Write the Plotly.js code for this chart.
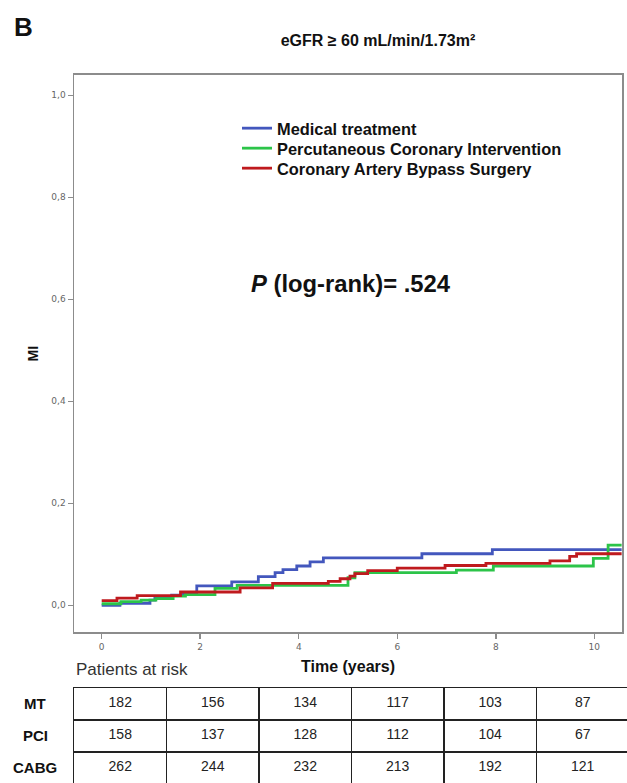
<!DOCTYPE html>
<html>
<head>
<meta charset="utf-8">
<script src="https://cdn.plot.ly/plotly-3.0.1.min.js"></script>
<style>html,body{margin:0;padding:0;background:#fff;}#chart{width:627px;height:783px;}</style>
</head>
<body>
<div id="chart"></div>
<script>
// Cumulative MI incidence (step curves)
const time_MT   = [0, 0.37, 0.98, 1.08, 1.42, 1.66, 1.93, 2.64, 3.18, 3.52, 3.68, 3.96, 4.23, 4.5, 6.5, 7.93, 10.56];
const inc_MT    = [0, 0.004, 0.010, 0.015, 0.020, 0.024, 0.038, 0.046, 0.056, 0.064, 0.070, 0.077, 0.085, 0.093, 0.101, 0.109, 0.109];

const time_PCI  = [0, 0.39, 0.8, 1.1, 1.45, 1.7, 2.3, 2.75, 5.0, 5.14, 7.2, 7.95, 9.98, 10.28, 10.56];
const inc_PCI   = [0.003, 0.007, 0.010, 0.013, 0.018, 0.021, 0.033, 0.039, 0.054, 0.064, 0.069, 0.077, 0.092, 0.118, 0.118];

const time_CABG = [0, 0.31, 0.72, 1.6, 2.81, 3.47, 4.6, 4.84, 5.04, 5.14, 5.4, 6.0, 6.97, 7.8, 9.1, 9.5, 9.64, 10.56];
const inc_CABG  = [0.009, 0.014, 0.019, 0.026, 0.034, 0.043, 0.047, 0.052, 0.057, 0.062, 0.068, 0.073, 0.078, 0.082, 0.087, 0.096, 0.101, 0.101];

const series_names = ['Medical treatment', 'Percutaneous Coronary Intervention', 'Coronary Artery Bypass Surgery'];

// Patients at risk table
const risk_times  = [0, 2, 4, 6, 8, 10];
const risk_labels = ['MT', 'PCI', 'CABG'];
const risk_MT     = [182, 156, 134, 117, 103, 87];
const risk_PCI    = [158, 137, 128, 112, 104, 67];
const risk_CABG   = [262, 244, 232, 213, 192, 121];

const xticks = [0, 2, 4, 6, 8, 10];
const yticks = [0, 0.2, 0.4, 0.6, 0.8, 1.0];

const colors = ['#4357bd', '#2cc449', '#bf1a1e'];
const W = 627, H = 783;
const AX = '#8c8c8c';
const SANS = 'Liberation Sans, Arial, sans-serif';
const legendIds = ['legend', 'legend2', 'legend3'];

const curveTimes = [time_MT, time_PCI, time_CABG];
const curveVals = [inc_MT, inc_PCI, inc_CABG];
const traces = curveTimes.map((t, i) => ({
  type: 'scatter', mode: 'lines', x: t, y: curveVals[i],
  line: {shape: 'hv', color: colors[i], width: 2.8},
  name: '<b>' + series_names[i] + '</b>', legend: legendIds[i],
  xaxis: 'x', yaxis: 'y', hoverinfo: 'skip'
}));

const riskRows = [risk_MT, risk_PCI, risk_CABG];
riskRows.forEach((row, r) => {
  traces.push({
    type: 'scatter', mode: 'text', x: risk_times, y: risk_times.map(() => r),
    text: row.map(String), textposition: 'middle center',
    textfont: {family: SANS, size: 14, color: '#222'},
    xaxis: 'x2', yaxis: 'y2', showlegend: false, hoverinfo: 'skip'
  });
});

const annotations = [
  {text: '<b>B</b>', xref: 'paper', yref: 'paper', x: 23 / W, y: 1 - 27 / H, xanchor: 'center', yanchor: 'middle',
   showarrow: false, font: {family: SANS, size: 26, color: '#111'}},
  {text: '<b><i>P</i> (log-rank)= .524</b>', xref: 'paper', yref: 'paper', x: 351 / W, y: 1 - 283 / H,
   xanchor: 'center', yanchor: 'middle', showarrow: false,
   font: {family: SANS, size: 23.8, color: '#111'}},
  {text: 'Patients at risk', xref: 'paper', yref: 'paper', x: 74 / W, y: 1 - 669 / H,
   xanchor: 'left', yanchor: 'middle', showarrow: false,
   font: {family: SANS, size: 17, color: '#333'}}
];
risk_labels.forEach((lab, r) => {
  annotations.push({text: '<b>' + lab + '</b>', xref: 'paper', yref: 'y2', x: 35 / W, y: r,
    xanchor: 'center', yanchor: 'middle', showarrow: false,
    font: {family: SANS, size: 15, color: '#111'}});
});

function legendAt(topPx) {
  return {
    x: 237 / W, y: 1 - topPx / H, xanchor: 'left', yanchor: 'top',
    bgcolor: 'rgba(0,0,0,0)', borderwidth: 0, itemwidth: 30,
    font: {family: SANS, size: 16.4, color: '#111'}
  };
}

const layout = {
  width: W, height: H,
  margin: {l: 0, r: 0, t: 0, b: 0, pad: 0},
  paper_bgcolor: '#fff', plot_bgcolor: '#fff',
  separators: ',.',
  showlegend: true,
  title: {text: '<b>eGFR ≥ 60 mL/min/1.73m²</b>', xref: 'paper', yref: 'paper',
          x: 378 / W, y: 1 - 40 / H, xanchor: 'center', yanchor: 'middle',
          font: {family: SANS, size: 16, color: '#111'}},
  xaxis: {
    domain: [74.3 / W, 621.7 / W], range: [-0.556, 10.556], anchor: 'y',
    tickvals: xticks, ticks: 'outside', ticklen: 5, tickwidth: 1.5, tickcolor: AX,
    showline: true, mirror: true, linecolor: AX, linewidth: 1.8, showgrid: false, zeroline: false,
    tickfont: {family: 'DejaVu Sans, sans-serif', size: 9, color: '#666'},
    title: {text: '<b>Time (years)</b>', standoff: 10,
            font: {family: SANS, size: 16, color: '#111'}}
  },
  yaxis: {
    domain: [(H - 632.3) / H, (H - 75) / H], range: [-0.053, 1.0397], anchor: 'x',
    tickvals: yticks, tickformat: '.1f', ticks: 'outside', ticklen: 5, tickwidth: 1.5, tickcolor: AX,
    showline: true, mirror: true, linecolor: AX, linewidth: 1.8, showgrid: false, zeroline: false,
    tickfont: {family: 'DejaVu Sans, sans-serif', size: 9, color: '#666'},
    title: {text: '<b>MI</b>', standoff: 9,
            font: {family: SANS, size: 14, color: '#111'}}
  },
  xaxis2: {
    domain: [74 / W, 1], range: [-1, 10.957], anchor: 'y2', side: 'top',
    tickvals: [1, 3, 5, 7, 9], showticklabels: false, ticks: '',
    showgrid: true, gridcolor: '#222', gridwidth: 1.2,
    showline: true, linecolor: '#222', linewidth: 1.2, zeroline: false, fixedrange: true
  },
  yaxis2: {
    domain: [0, 95 / H], range: [2.47, -0.5], anchor: 'x2',
    tickvals: [0.5, 1.5], showticklabels: false, ticks: '',
    showgrid: true, gridcolor: '#222', gridwidth: 1.2,
    showline: true, linecolor: '#222', linewidth: 1.2, zeroline: false, fixedrange: true
  },
  legend: legendAt(111),
  legend2: legendAt(131),
  legend3: legendAt(151),
  annotations: annotations
};

Plotly.newPlot('chart', traces, layout, {staticPlot: true, displayModeBar: false});
</script>
</body>
</html>
